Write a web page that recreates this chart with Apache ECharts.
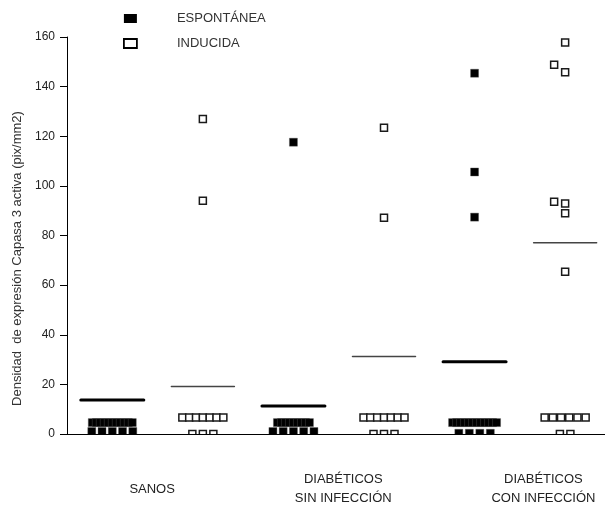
<!DOCTYPE html>
<html>
<head>
<meta charset="utf-8">
<script src="https://cdn.jsdelivr.net/npm/echarts@6/dist/echarts.min.js"></script>
<style>
html,body{margin:0;padding:0;background:#fff;}
#chart{width:605px;height:508px;}
</style>
</head>
<body>
<div id="chart"></div>
<script>
// ---- data ----
const groupLabels = ['SANOS', 'DIABÉTICOS\nSIN INFECCIÓN', 'DIABÉTICOS\nCON INFECCIÓN'];
const seriesNames = ['ESPONTÁNEA', 'INDUCIDA'];
const yTitle = 'Densidad  de expresión Capasa 3 activa (pix/mm2)';

const sanosEsp = [1, 1, 1, 1, 1, 4.6, 4.6, 4.6, 4.6, 4.6, 4.6, 4.6, 4.6, 4.6, 4.6, 4.6];
const sanosInd = [0, 0, 0, 6.7, 6.7, 6.7, 6.7, 6.7, 6.7, 6.7, 94, 127];
const sinEsp = [1, 1, 1, 1, 1, 4.6, 4.6, 4.6, 4.6, 4.6, 4.6, 4.6, 4.6, 4.6, 117.6];
const sinInd = [0, 0, 0, 6.7, 6.7, 6.7, 6.7, 6.7, 6.7, 6.7, 87.2, 123.4];
const conEsp = [0.3, 0.3, 0.3, 0.3, 4.6, 4.6, 4.6, 4.6, 4.6, 4.6, 4.6, 4.6, 4.6, 4.6, 4.6, 4.6, 87.4, 105.6, 145.4];
const conInd = [0, 0, 6.7, 6.7, 6.7, 6.7, 6.7, 6.7, 65.4, 89, 92.9, 93.6, 145.8, 148.8, 157.8];

const meansEsp = [13.7, 11.3, 29.1];
const meansInd = [19.1, 31.2, 77.1];

const yMin = 0, yMax = 160, yInterval = 20;

// ---- layout ----
const GRID = {left: 67, right: 0, top: 37, bottom: 71};
const H = 508, W = 605;
const pxPerUnit = (H - GRID.top - GRID.bottom) / (yMax - yMin);
const X_MAX = 5.94;
const labelPositions = [0.94, 3.05, 5.26];

function layoutColumn(vals, colX) {
  const counts = new Map();
  vals.forEach(v => counts.set(v, (counts.get(v) || 0) + 1));
  const out = [];
  const singles = [];
  counts.forEach((n, v) => {
    if (n > 1) {
      const s = n > 7 ? 4 : Math.min(10.5, 41 / (n - 1));
      for (let i = 0; i < n; i++) out.push([colX, v, (i - (n - 1) / 2) * s]);
    } else singles.push(v);
  });
  singles.sort((a, b) => a - b);
  const placed = [];
  singles.forEach(v => {
    let dx = 0;
    if (placed.some(p => p.dx === 0 && Math.abs(p.v - v) * pxPerUnit < 8.5)) dx = -11;
    placed.push({v, dx});
    out.push([colX, v, dx]);
  });
  return out;
}

const espCols = [sanosEsp, sinEsp, conEsp];
const indCols = [sanosInd, sinInd, conInd];
let espData = [], indData = [];
espCols.forEach((c, g) => { espData = espData.concat(layoutColumn(c, g * 2 + 0.5)); });
indCols.forEach((c, g) => { indData = indData.concat(layoutColumn(c, g * 2 + 1.5)); });
const meanEspData = meansEsp.map((m, g) => [g * 2 + 0.5, m]);
const meanIndData = meansInd.map((m, g) => [g * 2 + 1.5, m]);

function squareRenderer(filled) {
  return function (params, api) {
    const p = api.coord([api.value(0), api.value(1)]);
    const cx = p[0] + api.value(2);
    if (filled) {
      return {type: 'rect', shape: {x: cx - 4, y: p[1] - 4, width: 8, height: 8},
        style: {fill: '#000', stroke: '#555', lineWidth: 0.4}};
    }
    return {type: 'rect', shape: {x: cx - 3.5, y: p[1] - 3.5, width: 7, height: 7},
      style: {fill: '#fff', stroke: '#1a1a1a', lineWidth: 1.5}};
  };
}
function meanRenderer(width, color) {
  return function (params, api) {
    const p = api.coord([api.value(0), api.value(1)]);
    return {type: 'line', shape: {x1: p[0] - 31.5, y1: p[1], x2: p[0] + 31.5, y2: p[1]},
      style: {stroke: color, lineWidth: width, lineCap: 'round'}};
  };
}

const FONT = "'Liberation Sans', Arial, Helvetica, sans-serif";
const chart = echarts.init(document.getElementById('chart'), null, {renderer: 'canvas'});
chart.setOption({
  animation: false,
  backgroundColor: '#fff',
  textStyle: {fontFamily: FONT},
  grid: GRID,
  legend: {
    orient: 'vertical', left: 118, top: 7, itemWidth: 13, itemHeight: 9, itemGap: 12,
    textStyle: {fontSize: 13, color: '#333', fontFamily: FONT, padding: [0, 0, 0, 35]},
    data: [
      {name: seriesNames[0], icon: 'rect', itemStyle: {color: '#000', borderWidth: 0}},
      {name: seriesNames[1], icon: 'rect', itemStyle: {color: '#fff', borderColor: '#000', borderWidth: 1.8}}
    ]
  },
  xAxis: {
    type: 'value', min: 0, max: X_MAX,
    splitLine: {show: false},
    axisLine: {show: true, onZero: false, lineStyle: {color: '#000', width: 1}},
    axisTick: {show: false},
    axisLabel: {
      show: true, customValues: labelPositions,
      formatter: (v, i) => groupLabels[labelPositions.indexOf(v)] || '',
      verticalAlign: 'middle', align: 'center', margin: 55,
      fontSize: 13, lineHeight: 19, color: '#222', fontFamily: FONT
    }
  },
  yAxis: {
    type: 'value', min: yMin, max: yMax, interval: yInterval,
    splitLine: {show: false},
    axisLine: {show: true, lineStyle: {color: '#000', width: 1}},
    axisTick: {show: true, length: 7, lineStyle: {color: '#000'}},
    axisLabel: {fontSize: 12, color: '#222', margin: 12, fontFamily: FONT},
    name: yTitle, nameLocation: 'middle', nameGap: 42,
    nameTextStyle: {fontSize: 13, color: '#333', fontFamily: FONT, padding: [0, 46, 0, 0]}
  },
  series: [
    {name: seriesNames[0], type: 'custom', clip: true, renderItem: squareRenderer(true),
      itemStyle: {color: '#000'}, data: espData, z: 3},
    {name: seriesNames[1], type: 'custom', clip: true, renderItem: squareRenderer(false),
      itemStyle: {color: '#fff', borderColor: '#000', borderWidth: 2}, data: indData, z: 3},
    {name: 'meanEsp', type: 'custom', clip: true, renderItem: meanRenderer(3, '#000'),
      data: meanEspData, z: 2},
    {name: 'meanInd', type: 'custom', clip: true, renderItem: meanRenderer(1.5, '#444'),
      data: meanIndData, z: 2}
  ]
});
</script>
</body>
</html>
